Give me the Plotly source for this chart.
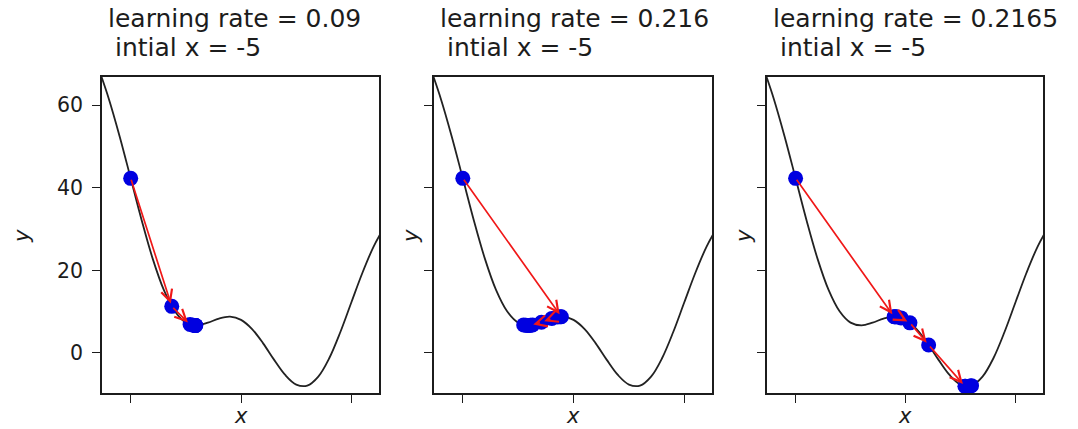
import plotly.graph_objects as go

# Objective curve, sampled every 0.5 along x
curve_x = [-6.5, -6.0, -5.5, -5.0, -4.5, -4.0, -3.5, -3.0, -2.5, -2.0, -1.5, -1.0, -0.5,
           0.0, 0.5, 1.0, 1.5, 2.0, 2.5, 3.0, 3.5, 4.0, 4.5, 5.0, 5.5, 6.0, 6.5]
curve_y = [69.56, 61.68, 52.42, 42.27, 32.06, 22.77, 15.26, 10.08, 7.34, 6.67, 7.32, 8.32, 8.77,
           8.00, 5.77, 2.32, -1.68, -5.33, -7.66, -7.92, -5.74, -1.23, 5.06, 12.27, 19.42, 25.68, 30.56]

# Gradient-descent iterates for each learning rate
learning_rates = ["0.09", "0.216", "0.2165"]
initial_x = "-5"

steps_x = [
    [-5.0, -3.14, -2.31, -2.16, -2.10, -2.07, -2.06, -2.05],
    [-5.0, -0.55, -0.60, -0.72, -0.98, -1.45, -1.95, -2.25, -1.85, -2.15, -2.00, -2.08],
    [-5.0, -0.52, -0.50, -0.46, -0.38, -0.20, 0.20, 1.05, 2.70, 3.00, 2.72, 2.96],
]
steps_y = [
    [42.27, 11.28, 6.87, 6.70, 6.66, 6.65, 6.65, 6.65],
    [42.27, 8.77, 8.76, 8.69, 8.36, 7.42, 6.69, 6.79, 6.77, 6.69, 6.67, 6.66],
    [42.27, 8.77, 8.77, 8.76, 8.71, 8.48, 7.28, 1.93, -8.04, -7.92, -8.06, -7.98],
]

x_ticks = [-5, 0, 5]
y_ticks = [0, 20, 40, 60]

W, H = 1078, 429
panel_left = [102, 434, 767]
panel_right = [379, 712, 1043]
panel_top, panel_bottom = 77, 393

FONT = "DejaVu Sans"
INK = "#1c1c1c"

fig = go.Figure()
annotations = []
layout = dict(
    width=W, height=H,
    margin=dict(l=0, r=0, t=0, b=0),
    paper_bgcolor="white", plot_bgcolor="white",
    showlegend=False,
    font=dict(family=FONT, color=INK),
)

axis_common = dict(
    showline=True, linecolor=INK, linewidth=1.6, mirror=True,
    ticks="outside", ticklen=8, tickwidth=1.4, tickcolor=INK,
    showgrid=False, zeroline=False,
)

for k in range(3):
    suffix = "" if k == 0 else str(k + 1)
    xa, ya = "x" + suffix, "y" + suffix

    fig.add_trace(go.Scatter(
        x=curve_x, y=curve_y, mode="lines", xaxis=xa, yaxis=ya,
        line=dict(color="#222222", width=1.8, shape="spline", smoothing=1.0),
        hoverinfo="skip",
    ))
    fig.add_trace(go.Scatter(
        x=steps_x[k], y=steps_y[k], mode="markers", xaxis=xa, yaxis=ya,
        marker=dict(color="#0000e0", size=15, line=dict(width=0)),
    ))

    # arrows from each iterate to the next
    xs, ys = steps_x[k], steps_y[k]
    for i in range(len(xs) - 1):
        annotations.append(dict(
            x=xs[i + 1], y=ys[i + 1], ax=xs[i], ay=ys[i],
            xref=xa, yref=ya, axref=xa, ayref=ya,
            text="", showarrow=True, arrowhead=5, arrowsize=1.3,
            arrowwidth=1.7, arrowcolor="#f01818", standoff=3,
        ))

    layout["xaxis" + suffix] = dict(
        axis_common, domain=[panel_left[k] / W, panel_right[k] / W],
        range=[-6.3, 6.25], tickvals=x_ticks, showticklabels=False,
        anchor=ya,
    )
    layout["yaxis" + suffix] = dict(
        axis_common, domain=[1 - panel_bottom / H, 1 - panel_top / H],
        range=[-9.7, 66.8], tickvals=y_ticks, showticklabels=(k == 0),
        tickfont=dict(family=FONT, size=20.5, color=INK),
        ticklabelstandoff=5, anchor=xa,
    )

    # two-line title
    annotations.append(dict(
        text="learning rate = " + learning_rates[k], xref="paper", yref="paper",
        x=(panel_left[k] + 4) / W, y=1 - 19 / H, xanchor="left", yanchor="middle",
        showarrow=False, font=dict(family=FONT, size=25, color=INK),
    ))
    annotations.append(dict(
        text="\u00a0intial x = " + initial_x, xref="paper", yref="paper",
        x=(panel_left[k] + 3) / W, y=1 - 48 / H, xanchor="left", yanchor="middle",
        showarrow=False, font=dict(family=FONT, size=25, color=INK),
    ))

    # axis labels
    annotations.append(dict(
        text="<i>x</i>", xref="paper", yref="paper",
        x=(panel_left[k] + panel_right[k]) / 2 / W, y=1 - 416 / H,
        xanchor="center", yanchor="middle", showarrow=False,
        font=dict(family=FONT, size=21, color=INK),
    ))
    y_label_x = 22 if k == 0 else panel_left[k] - 23
    annotations.append(dict(
        text="<i>y</i>", xref="paper", yref="paper",
        x=y_label_x / W, y=1 - 236 / H, textangle=-90,
        xanchor="center", yanchor="middle", showarrow=False,
        font=dict(family=FONT, size=21, color=INK),
    ))

layout["annotations"] = annotations
fig.update_layout(**layout)
fig.write_html("out.html")
